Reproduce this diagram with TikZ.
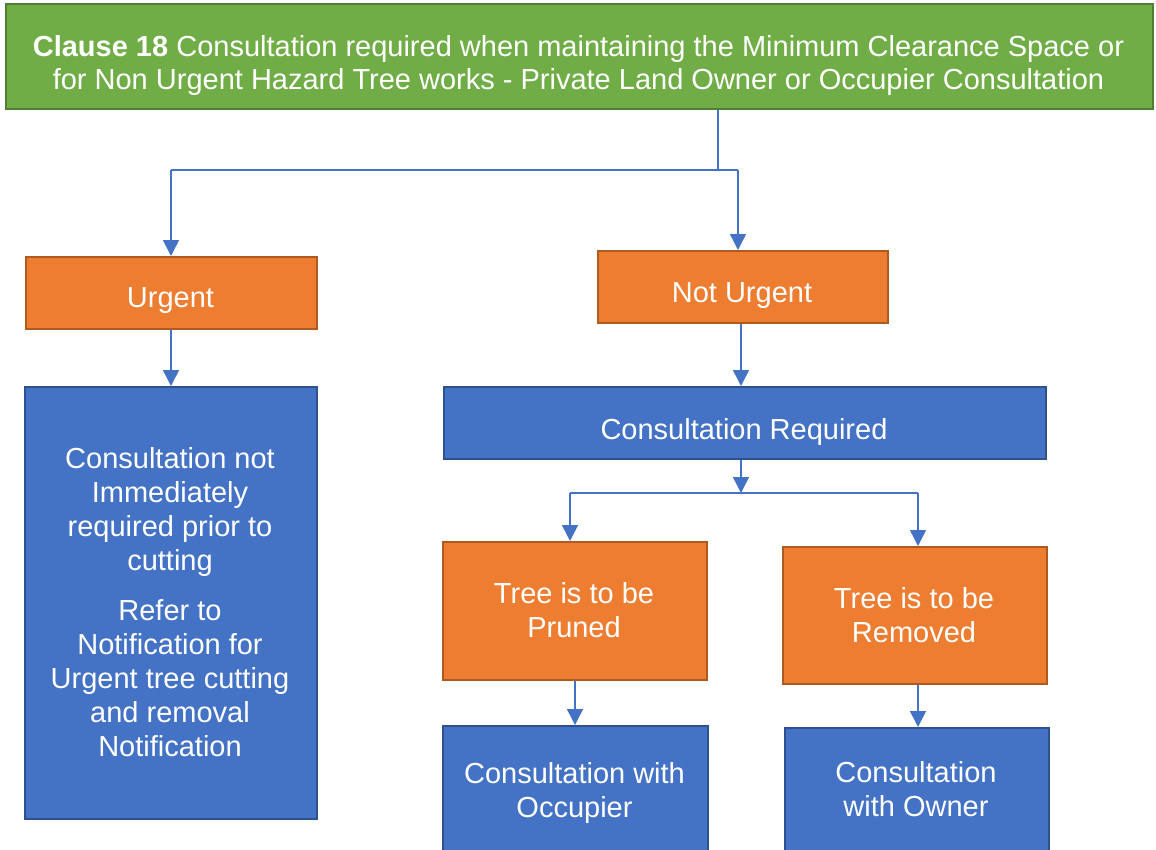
\documentclass[tikz,border=0pt]{standalone}
\usepackage{fontspec}
\setmainfont{Liberation Sans}
\usetikzlibrary{arrows.meta}
\definecolor{gfill}{HTML}{70AD47}
\definecolor{gdraw}{HTML}{507E32}
\definecolor{ofill}{HTML}{ED7D31}
\definecolor{odraw}{HTML}{AE5A21}
\definecolor{bfill}{HTML}{4472C4}
\definecolor{bdraw}{HTML}{2F528F}
\tikzset{
  boxbase/.style={anchor=north west, inner sep=0pt, line width=2pt, text=white, align=center,
    font=\fontsize{29pt}{34pt}\selectfont},
  greenbox/.style={boxbase, fill=gfill, draw=gdraw},
  orangebox/.style={boxbase, fill=ofill, draw=odraw},
  bluebox/.style={boxbase, fill=bfill, draw=bdraw},
  label/.style={boxbase, anchor=center, draw=none, fill=none},
  conn/.style={draw=bfill, line width=1.5pt},
  arr/.style={conn, -{Triangle[width=16pt,length=16pt]}},
}
\begin{document}
\begin{tikzpicture}[x=1pt,y=-1pt]
\useasboundingbox (0,0) rectangle (1156,849);
\clip (0,0) rectangle (1156,849);
% boxes
\node[greenbox, minimum width=1147pt, minimum height=105pt] (top) at (5,3) {};
\node[label, font=\fontsize{29pt}{33pt}\selectfont] (toptext) at (578.5,65)
  {\textbf{Clause 18} Consultation required when maintaining the Minimum Clearance Space or\\
   for Non Urgent Hazard Tree works - Private Land Owner or Occupier Consultation};
\node[orangebox, minimum width=291pt, minimum height=72pt] (urg) at (25,256) {};
\node[label] (urgt) at (170.5,301) {Urgent};
\node[orangebox, minimum width=290pt, minimum height=72pt] (nu) at (597,250) {};
\node[label] (nut) at (742,296) {Not Urgent};
\node[bluebox, minimum width=292pt, minimum height=432pt] (lb) at (24,386) {};
\node[label] (lbt1) at (170,512) {Consultation not\\Immediately\\required prior to\\cutting};
\node[label] (lbt2) at (170,678) {Refer to\\Notification for\\Urgent tree cutting\\and removal\\Notification};
\node[bluebox, minimum width=602pt, minimum height=72pt] (cr) at (443,386) {};
\node[label] (crt) at (744,432) {Consultation Required};
\node[orangebox, minimum width=264pt, minimum height=138pt] (pr) at (442,541) {};
\node[label] (prt) at (574,610) {Tree is to be\\Pruned};
\node[orangebox, minimum width=264pt, minimum height=137pt] (rm) at (782,546) {};
\node[label] (rmt) at (914,615) {Tree is to be\\Removed};
\node[bluebox, minimum width=265pt, minimum height=140pt] (oc) at (442,725) {};
\node[label] (oct) at (574.5,793) {Consultation with\\Occupier};
\node[bluebox, minimum width=264pt, minimum height=138pt] (ow) at (784,727) {};
\node[label] (owt) at (916,789) {Consultation\\with Owner};
% connectors
\coordinate (j1) at (718,170);
\coordinate (jl) at (171,170);
\coordinate (jr) at (738,170);
\draw[conn] (top.south -| j1) -- (j1);
\draw[conn] (j1) -- (jl);
\draw[conn] (j1) -- (jr);
\draw[arr] (jl) -- (jl |- urg.north);
\draw[arr] (jr) -- (jr |- nu.north);
\draw[arr] (urg.south -| jl) -- (lb.north -| jl);
\coordinate (nux) at (741,0);
\draw[arr] (nu.south -| nux) -- (cr.north -| nux);
\coordinate (j2) at (741,493);
\coordinate (j2l) at (570,493);
\coordinate (j2r) at (918,493);
\draw[arr] (cr.south -| j2) -- (j2);
\draw[conn] (j2l) -- (j2r);
\draw[arr] (j2l) -- (j2l |- pr.north);
\draw[arr] (j2r) -- (j2r |- rm.north);
\coordinate (px) at (575,0);
\coordinate (rx) at (918,0);
\draw[arr] (pr.south -| px) -- (oc.north -| px);
\draw[arr] (rm.south -| rx) -- (ow.north -| rx);
\end{tikzpicture}
\end{document}
